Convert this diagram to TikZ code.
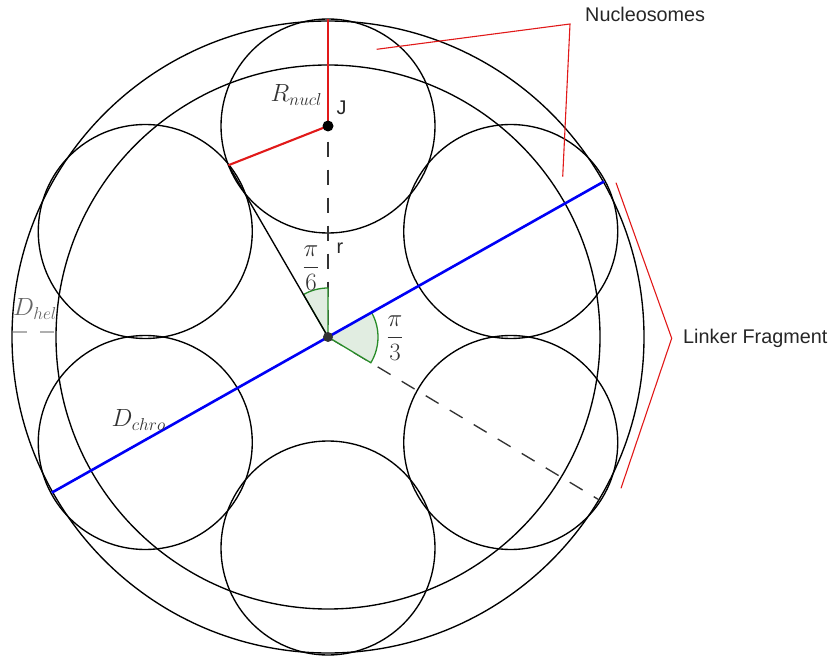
\documentclass[tikz,border=0pt]{standalone}
\usepackage{fontspec}
\setsansfont{Liberation Sans}
\usetikzlibrary{calc}
\definecolor{sectfill}{RGB}{225,237,225}
\definecolor{sectline}{RGB}{40,140,40}
\definecolor{labgrey}{RGB}{51,51,51}
\definecolor{helgrey}{RGB}{100,100,100}
\definecolor{helline}{RGB}{175,175,175}
\definecolor{redline}{RGB}{225,25,25}
\definecolor{blueline}{RGB}{0,0,245}
\begin{document}
\begin{tikzpicture}[x=1pt,y=1pt,
  ring/.style={draw=black,line width=1.35pt},
  dashline/.style={draw=black!80,line width=1.35pt,dash pattern=on 15pt off 13pt},
  sector/.style={fill=sectfill,draw=sectline,line width=1.3pt},
  redthick/.style={draw=redline,line width=2.1pt},
  redthin/.style={draw=redline,line width=1.1pt},
  mathlab/.style={text=labgrey,inner sep=0pt,font=\fontsize{23}{28}\selectfont},
  fraclab/.style={text=labgrey,inner sep=0pt,font=\fontsize{23}{28}\selectfont},
  sanslab/.style={text=black!85,inner sep=0pt,font=\sffamily\fontsize{19.8}{24}\selectfont}]
\useasboundingbox (0,0) rectangle (829,659);
% centres
\coordinate (O) at (328,322);
\foreach \i in {0,...,5} \coordinate (c\i) at ($(O)+(90+60*\i:211)$);
\coordinate (J) at (c0);
\coordinate (T) at ($(c0)+(90:107)$);
\coordinate (P) at ($(c0)+(201.5:107)$);
\coordinate (B1) at ($(O)+(29.4:317)$);
\coordinate (B2) at ($(O)+(209.4:317)$);
\coordinate (L) at ($(O)+(-31:315)$);
\coordinate (H1) at (13,327);
\coordinate (H2) at (56,327);
\coordinate (N0) at (376.7,609.7);
\coordinate (N1) at (570,635);
\coordinate (N2) at (562.7,482.3);
\coordinate (K0) at (616,476.3);
\coordinate (K1) at (671.7,320.7);
\coordinate (K2) at (621,170.7);
% big circles
\draw[ring] (O) circle[radius=316];
\draw[ring] (O) circle[radius=272];
% nucleosomes
\foreach \i in {0,...,5} \draw[ring] (c\i) circle[radius=107];
% dashed lines
\draw[dashline,dash phase=12.3pt] (J) -- (O);
\draw[dashline,dash phase=26pt] (O) -- (L);
\draw[draw=helline,line width=2pt,dash pattern=on 14pt off 13pt] (H1) -- (H2);
% angle sectors
\draw[sector] (O) -- ($(O)+(90:49)$) arc[start angle=90,end angle=120,radius=49] -- cycle;
\draw[sector] (O) -- ($(O)+(-31:50)$) arc[start angle=-31,end angle=29.4,radius=50] -- cycle;
% tangent line
\draw[draw=black,line width=1.35pt] (O) -- (P);
% diameter
\draw[draw=blueline,line width=2.6pt] (B2) -- (B1);
% radii
\draw[redthick] (J) -- (T);
\draw[redthick] (J) -- (P);
% pointers
\draw[redthin] (N0) -- (N1) -- (N2);
\draw[redthin] (K0) -- (K1) -- (K2);
% dots
\fill[black] (J) circle[radius=5.5];
\fill[black!80] (O) circle[radius=5];
% labels
\node[mathlab,anchor=base west] (lR) at (270.5,557.3) {$R_{nucl}$};
\node[sanslab,anchor=base west] (lJ) at (336.5,544) {J};
\node[sanslab,anchor=base west] (lr) at (336.5,405.7) {r};
\node[fraclab] (l6) at (311,391) {$\displaystyle\frac{\pi}{6}$};
\node[fraclab] (l3) at (395,320.5) {$\displaystyle\frac{\pi}{3}$};
\node[mathlab,anchor=base west,text=helgrey] (lH) at (13,343) {$D_{hel}$};
\node[mathlab,anchor=base west] (lC) at (111.5,232.3) {$D_{chro}$};
\node[sanslab,anchor=base west] (lN) at (585,637.3) {Nucleosomes};
\node[sanslab,anchor=base west] (lL) at (683,315) {Linker Fragment};
\end{tikzpicture}
\end{document}
